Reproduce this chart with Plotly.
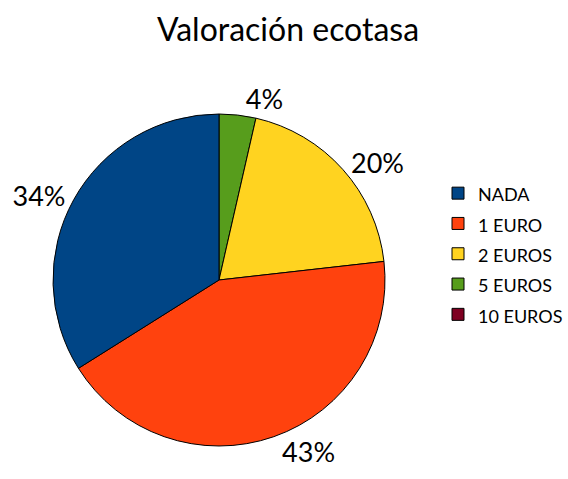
import plotly.graph_objects as go

# Survey answers: how much people would pay as an eco-tax
categories = ["NADA", "1 EURO", "2 EUROS", "5 EUROS", "10 EUROS"]
responses = [19, 24, 11, 2, 0]
colors = ["#004586", "#ff420e", "#ffd320", "#579d1c", "#7e0021"]

FONT = "Lato"
W, H = 568, 479

# slices run clockwise from 12 o'clock starting with the last category,
# so the pie gets the lists reversed and the legend reverses them back
labels_rev = [f"<span style='font-size:18px'>{c}</span>" for c in categories][::-1]
values_rev = responses[::-1]
colors_rev = colors[::-1]
# no percentage label for empty slices
templates_rev = ["%{percent:.0%}" if v > 0 else "" for v in values_rev]

fig = go.Figure(
    go.Pie(
        labels=labels_rev,
        values=values_rev,
        marker=dict(colors=colors_rev, line=dict(color="#000000", width=1)),
        sort=False,
        direction="clockwise",
        rotation=0,
        texttemplate=templates_rev,
        textposition="outside",
        outsidetextfont=dict(family=FONT, size=27, color="#000000"),
        hovertemplate="%{label}: %{value}<extra></extra>",
        domain=dict(x=[53 / W, 385 / W], y=[(H - 446) / H, (H - 114) / H]),
    )
)

fig.update_layout(
    width=W,
    height=H,
    margin=dict(l=0, r=0, t=0, b=0),
    paper_bgcolor="#ffffff",
    plot_bgcolor="#ffffff",
    title=dict(
        text="Valoración ecotasa",
        x=288 / W,
        xanchor="center",
        y=1 - 30 / H,
        yanchor="middle",
        font=dict(family=FONT, size=32, color="#000000"),
    ),
    legend=dict(
        x=438 / W,
        xanchor="left",
        y=1 - 173 / H,
        yanchor="top",
        font=dict(family=FONT, size=21, color="#000000"),
        bgcolor="rgba(0,0,0,0)",
        traceorder="reversed",
    ),
    showlegend=True,
)

fig.write_html("out.html")
